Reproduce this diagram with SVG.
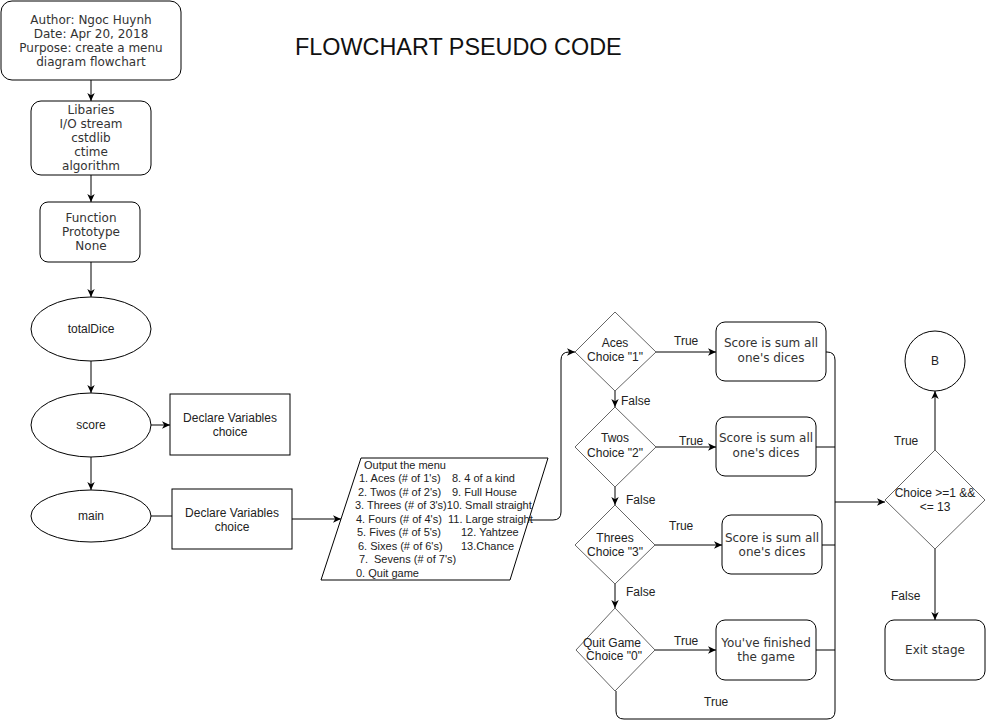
<svg xmlns="http://www.w3.org/2000/svg" width="986" height="724" viewBox="0 0 986 724">
<style>
.bx{fill:#fff;stroke:#000;stroke-width:1}
.dm{fill:#fff;stroke:#666;stroke-width:1}
.v{font-family:"DejaVu Sans",Verdana,sans-serif;font-size:12px;fill:#333;text-anchor:middle}
.a{font-family:"Liberation Sans",Arial,sans-serif;font-size:12px;fill:#222;text-anchor:middle}
.p{font-family:"Liberation Sans",Arial,sans-serif;font-size:11px;fill:#222}
.c{fill:none;stroke:#000;stroke-width:1}
.ca{fill:none;stroke:#000;stroke-width:1;marker-end:url(#arr)}
.lb{font-family:"Liberation Sans",Arial,sans-serif;font-size:12px;fill:#222}
</style>
<defs>
<marker id="arr" markerWidth="9" markerHeight="9" refX="8" refY="4.5" orient="auto" markerUnits="userSpaceOnUse">
<path d="M0,0.8 L8,4.5 L0,8.2 L2.2,4.5 Z" fill="#000"/>
</marker>
</defs>
<rect width="986" height="724" fill="#fff"/>
<text x="295" y="55" font-family="Liberation Sans, Arial, sans-serif" font-size="23.4" fill="#111">FLOWCHART PSEUDO CODE</text>

<g id="connectors">
<path class="ca" d="M91,80 V101"/>
<path class="ca" d="M91,175 V202"/>
<path class="ca" d="M91,262 V297"/>
<path class="ca" d="M91,361 V393"/>
<path class="ca" d="M151,425 H170"/>
<path class="ca" d="M91,457 V490"/>
<path class="c" d="M151,516 H172"/>
<path class="ca" d="M292,519 H341"/>
<path class="ca" d="M529,520 H553 Q561,520 561,512 V360 Q561,352 569,352 H575"/>
<path class="ca" d="M656,352 H716"/>
<path class="ca" d="M615,391 V407"/>
<path class="ca" d="M656,447 H716"/>
<path class="ca" d="M615,487 V505"/>
<path class="ca" d="M655,545 H722"/>
<path class="ca" d="M615,584 V608"/>
<path class="ca" d="M655,650 H716"/>
<path class="c" d="M826,352 H827 Q835,352 835,360 V502"/>
<path class="c" d="M616,691 V711 Q616,719 624,719 H827 Q835,719 835,711 V502"/>
<path class="c" d="M816,447 H835"/>
<path class="c" d="M822,545 H835"/>
<path class="c" d="M816,650 H835"/>
<path class="ca" d="M835,502 H885"/>
<path class="ca" d="M935,450 V391"/>
<path class="ca" d="M935,549 V620"/>
<text class="lb" x="674" y="345">True</text>
<text class="lb" x="621" y="405">False</text>
<text class="lb" x="679" y="445">True</text>
<text class="lb" x="626" y="504">False</text>
<text class="lb" x="669" y="530">True</text>
<text class="lb" x="626" y="596">False</text>
<text class="lb" x="674" y="645">True</text>
<text class="lb" x="704" y="706">True</text>
<text class="lb" x="894" y="445">True</text>
<text class="lb" x="891" y="600">False</text>
</g>

<g id="author">
<rect class="bx" x="1" y="1" width="180" height="79" rx="11"/>
<text class="v" x="91" y="24">Author: Ngoc Huynh</text>
<text class="v" x="91" y="38">Date: Apr 20, 2018</text>
<text class="v" x="91" y="52">Purpose: create a menu</text>
<text class="v" x="91" y="66">diagram flowchart</text>
</g>
<g id="libraries">
<rect class="bx" x="31" y="101" width="120" height="74" rx="10"/>
<text class="v" x="91" y="114">Libaries</text>
<text class="v" x="91" y="128">I/O stream</text>
<text class="v" x="91" y="142">cstdlib</text>
<text class="v" x="91" y="156">ctime</text>
<text class="v" x="91" y="170">algorithm</text>
</g>
<g id="prototype">
<rect class="bx" x="40" y="202" width="100" height="60" rx="8"/>
<text class="v" x="91" y="222">Function</text>
<text class="v" x="91" y="236">Prototype</text>
<text class="v" x="91" y="250">None</text>
</g>
<g id="totalDice">
<ellipse class="bx" cx="91" cy="329" rx="60" ry="32"/>
<text class="a" x="91" y="333">totalDice</text>
</g>
<g id="score">
<ellipse class="bx" cx="91" cy="425" rx="60" ry="32"/>
<text class="a" x="91" y="429">score</text>
</g>
<g id="declare1">
<rect class="bx" x="170" y="394" width="120" height="61"/>
<text class="a" x="230" y="422">Declare Variables</text>
<text class="a" x="230" y="436">choice</text>
</g>
<g id="main">
<ellipse class="bx" cx="91" cy="516" rx="60" ry="26"/>
<text class="a" x="91" y="520">main</text>
</g>
<g id="declare2">
<rect class="bx" x="172" y="489" width="120" height="60"/>
<text class="a" x="232" y="517">Declare Variables</text>
<text class="a" x="232" y="531">choice</text>
</g>
<g id="menu">
<polygon class="bx" points="361,458 548,458 510,580 321,580"/>
<text class="p" x="364" y="468.5">Output the menu</text>
<text class="p" x="359" y="482">1. Aces (# of 1's)</text>
<text class="p" x="452" y="482">8. 4 of a kind</text>
<text class="p" x="358" y="495.5">2. Twos (# of 2's)</text>
<text class="p" x="452" y="495.5">9. Full House</text>
<text class="p" x="355" y="509">3. Threes (# of 3's)10. Small straight</text>
<text class="p" x="356" y="522.5">4. Fours (# of 4's)</text>
<text class="p" x="448" y="522.5">11. Large straight</text>
<text class="p" x="357" y="536">5. Fives (# of 5's)</text>
<text class="p" x="461" y="536">12. Yahtzee</text>
<text class="p" x="358" y="549.5">6. Sixes (# of 6's)</text>
<text class="p" x="461" y="549.5">13.Chance</text>
<text class="p" x="359" y="563">7.</text>
<text class="p" x="374" y="563">Sevens (# of 7's)</text>
<text class="p" x="356" y="576.5">0. Quit game</text>
</g>
<g id="aces">
<polygon class="dm" points="615,312 656,352 615,391 575,352"/>
<text class="a" x="615" y="347">Aces</text>
<text class="a" x="615" y="361">Choice "1"</text>
</g>
<g id="twos">
<polygon class="dm" points="615,407 656,447 615,487 575,447"/>
<text class="a" x="615" y="442">Twos</text>
<text class="a" x="615" y="457">Choice "2"</text>
</g>
<g id="threes">
<polygon class="dm" points="615,505 655,545 615,584 575,545"/>
<text class="a" x="615" y="542">Threes</text>
<text class="a" x="615" y="556">Choice "3"</text>
</g>
<g id="quit">
<polygon class="dm" points="615,608 655,650 615,691 576,650"/>
<text class="a" x="612" y="647">Quit Game</text>
<text class="a" x="614" y="660">Choice "0"</text>
</g>
<g id="sum1">
<rect class="bx" x="716" y="322" width="110" height="59" rx="9"/>
<text class="v" x="771" y="347">Score is sum all</text>
<text class="v" x="771" y="362">one's dices</text>
</g>
<g id="sum2">
<rect class="bx" x="716" y="417" width="100" height="59" rx="9"/>
<text class="v" x="766" y="442">Score is sum all</text>
<text class="v" x="766" y="457">one's dices</text>
</g>
<g id="sum3">
<rect class="bx" x="722" y="515" width="100" height="59" rx="9"/>
<text class="v" x="772" y="542">Score is sum all</text>
<text class="v" x="772" y="556">one's dices</text>
</g>
<g id="finished">
<rect class="bx" x="716" y="620" width="100" height="60" rx="9"/>
<text class="v" x="766" y="647">You've finished</text>
<text class="v" x="766" y="661">the game</text>
</g>
<g id="range">
<polygon class="dm" points="935,450 985,500 935,549 885,500"/>
<text class="a" x="935" y="497">Choice &gt;=1 &amp;&amp;</text>
<text class="a" x="935" y="511">&lt;= 13</text>
</g>
<g id="b">
<circle class="bx" cx="935" cy="361" r="30"/>
<text class="a" x="935" y="365">B</text>
</g>
<g id="exit">
<rect class="bx" x="885" y="620" width="100" height="60" rx="9"/>
<text class="v" x="935" y="654">Exit stage</text>
</g>
</svg>
